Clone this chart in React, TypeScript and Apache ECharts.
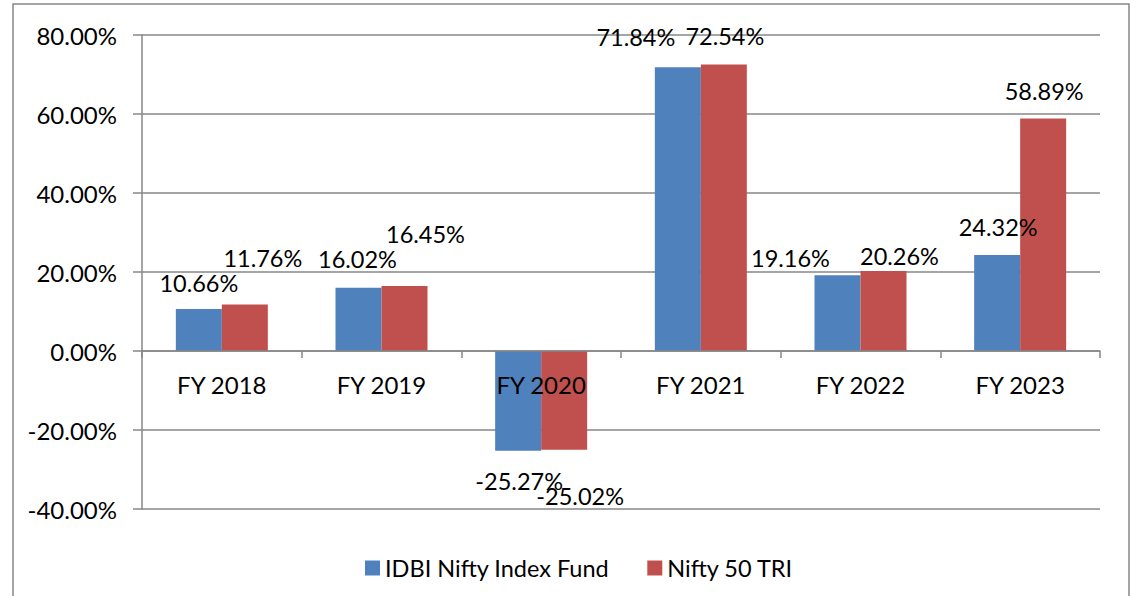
import React, { useEffect, useRef } from "react";
import * as echarts from "echarts";

const categories = ["FY 2018", "FY 2019", "FY 2020", "FY 2021", "FY 2022", "FY 2023"];
const seriesNames = ["IDBI Nifty Index Fund", "Nifty 50 TRI"];
const fundReturns = [10.66, 16.02, -25.27, 71.84, 19.16, 24.32];
const triReturns = [11.76, 16.45, -25.02, 72.54, 20.26, 58.89];
const yTicks = { min: -40, max: 80, interval: 20 };

// label nudges (style only), [dx, dy] in px
const fundLabelNudge = [[0, -14], [-1, -17], [1, 18], [-42, -18], [-47, -5], [1, -16]];
const triLabelNudge = [[18, -35], [21, -40], [16, 34], [1, -16], [16, -3], [1, -15]];

const FONT = "Lato, 'Noto Sans', sans-serif";
const FS = 24;
const FS_LABEL = 23.5;

function buildData(values: number[], nudges: number[][]) {
  return values.map((v, i) => ({
    value: v,
    label: {
      position: v < 0 ? "bottom" : "top",
      distance: 0,
      offset: nudges[i],
    },
  }));
}

export default function App() {
  const ref = useRef<HTMLDivElement>(null);
  useEffect(() => {
    document.body.style.margin = "0";
    const chart = echarts.init(ref.current!, null, { renderer: "svg" });
    const labelCommon = {
      show: true,
      color: "#000",
      fontFamily: FONT,
      fontSize: FS_LABEL,
      formatter: (p: any) => p.value.toFixed(2) + "%",
    };
    chart.setOption({
      animation: false,
      backgroundColor: "#fff",
      textStyle: { fontFamily: FONT },
      graphic: [
        {
          type: "rect",
          z: -10,
          shape: { x: 13, y: 4, width: 1116, height: 620 },
          style: { fill: "none", stroke: "#878787", lineWidth: 1.5 },
          silent: true,
        },
      ],
      grid: { left: 142, right: 41, top: 35, bottom: 87, containLabel: false },
      legend: {
        data: seriesNames,
        left: 360,
        top: 551,
        icon: "rect",
        itemWidth: 15,
        itemHeight: 15,
        itemGap: 38,
        textStyle: { color: "#000", fontFamily: FONT, fontSize: FS_LABEL },
      },
      xAxis: {
        type: "category",
        data: categories,
        z: 10,
        position: "bottom",
        offset: -158,
        axisLine: { onZero: false, lineStyle: { color: "#878787", width: 1.5 } },
        axisTick: { show: true, length: 7, lineStyle: { color: "#878787", width: 1.5 } },
        axisLabel: { color: "#000", fontFamily: FONT, fontSize: FS, margin: 21 },
        splitLine: { show: false },
      },
      yAxis: {
        type: "value",
        min: yTicks.min,
        max: yTicks.max,
        interval: yTicks.interval,
        axisLine: { show: true, lineStyle: { color: "#878787", width: 1.5 } },
        axisTick: { show: true, length: 9, lineStyle: { color: "#878787", width: 1.5 } },
        axisLabel: {
          color: "#000",
          fontFamily: FONT,
          fontSize: FS,
          margin: 25,
          formatter: (v: number) => v.toFixed(2) + "%",
        },
        splitLine: { show: true, lineStyle: { color: "#878787", width: 1.5 } },
      },
      series: [
        {
          name: seriesNames[0],
          type: "bar",
          barWidth: 46,
          barGap: "0%",
          itemStyle: { color: "#4F81BD" },
          label: labelCommon,
          data: buildData(fundReturns, fundLabelNudge),
        },
        {
          name: seriesNames[1],
          type: "bar",
          barWidth: 46,
          barGap: "0%",
          itemStyle: { color: "#C0504D" },
          label: labelCommon,
          data: buildData(triReturns, triLabelNudge),
        },
      ],
    });
    return () => chart.dispose();
  }, []);
  return (
    <div
      ref={ref}
      style={{ position: "fixed", left: 0, top: 0, width: 1141, height: 596 }}
    />
  );
}
